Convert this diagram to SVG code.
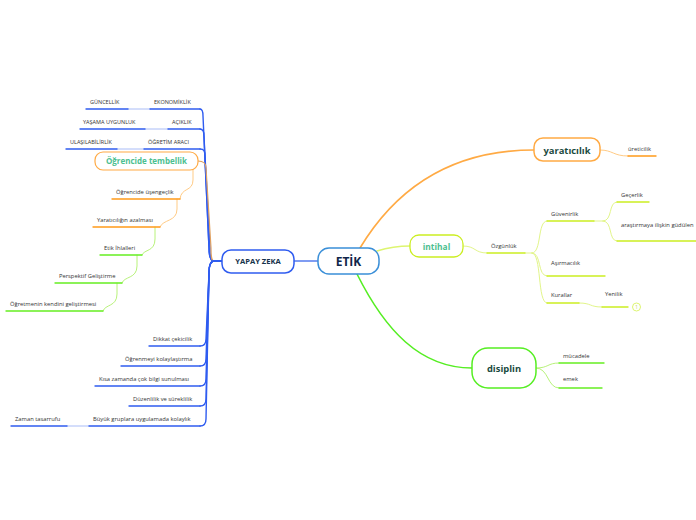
<svg xmlns="http://www.w3.org/2000/svg" width="696" height="520" viewBox="0 0 696 520">
<style>
.leaf{font-family:"Open Sans","DejaVu Sans",sans-serif;font-size:5.8px;fill:#333}
.cap{font-family:"Open Sans","DejaVu Sans",sans-serif;font-size:5.5px;fill:#333}
.c{fill:none;stroke-linecap:round}
.ub{stroke:#2f5cf0;stroke-width:1.4}
.ubl{stroke:#a9bcf7;stroke-width:1}
.uo{stroke:#ff9a1a;stroke-width:1.4}
.uol{stroke:#ffcb85;stroke-width:1}
.ug{stroke:#66ee22;stroke-width:1.4}
.ugl{stroke:#b8f27a;stroke-width:1}
.uy{stroke:#ccee22;stroke-width:1.4}
.uyl{stroke:#e2f58a;stroke-width:1}
.nt{font-family:"Open Sans","DejaVu Sans",sans-serif;font-weight:bold;text-anchor:middle}
</style>
<rect width="696" height="520" fill="#ffffff"/>
<g id="connectors">
  <path class="c" d="M294,261 H318" stroke="#7f9cf2" stroke-width="2"/>
  <path class="c" d="M360,248 C395,190 450,150 534,150" stroke="#ffaa44" stroke-width="1.6"/>
  <path class="c" d="M377,251 C390,247 398,246 410,246" stroke="#ddf570" stroke-width="1.6"/>
  <path class="c" d="M357,274 C385,330 420,368 472,368" stroke="#55ee22" stroke-width="1.6"/>
  <path class="c ub" d="M222,261 H214 C210,261 209,255 209,248 L203,116 C203,111 202,109 200,109"/>
  <path class="c ub" d="M222,261 H214 C210,261 209,255 209,248 L204,136 C204,131 203,129 200,129"/>
  <path class="c ub" d="M222,261 H214 C210,261 210,255 210,248 L205,156 C205,151 204,149 200,149"/>
  <path class="c" d="M222,261 H214 C211,261 211,255 211,248 L206,168 C206,163 203,161 198,161" stroke="#e0a060" stroke-width="1.2"/>
  <path class="c ub" d="M222,261 H214 C210,261 209,266 209,273 L206,339 C206,344 204,346 200,346"/>
  <path class="c ub" d="M222,261 H214 C210,261 209,266 209,273 L206,359 C206,364 204,366 200,366"/>
  <path class="c ub" d="M222,261 H214 C210,261 209,266 209,273 L206,379 C206,384 204,386 200,386"/>
  <path class="c ub" d="M222,261 H214 C210,261 209,266 209,273 L206,399 C206,404 204,406 200,406"/>
  <path class="c ub" d="M222,261 H214 C210,261 209,266 209,273 L206,419 C206,424 204,426 200,426"/>
  <path class="c ubl" d="M128,109 H150"/>
  <path class="c ubl" d="M145,129 H168"/>
  <path class="c ubl" d="M117,149 H144"/>
  <path class="c ubl" d="M67,426 H89"/>
  <path class="c uol" d="M193,170 V180 C193,192 181,187 180,199"/>
  <path class="c uol" d="M177,199 V209 C177,222 163,219 160,227"/>
  <path class="c ugl" d="M155,227 V239 C155,252 144,249 142,255"/>
  <path class="c ugl" d="M137,255 V266 C137,279 124,276 122,283"/>
  <path class="c ugl" d="M117,283 V294 C117,307 105,304 103,311"/>
  <path class="c uol" d="M600,150 C613,150 613,156 628,156"/>
  <path class="c uyl" d="M463,246 C476,246 474,253 487,253"/>
  <path class="c uyl" d="M525,253 H532"/>
  <path class="c uyl" d="M532,253 C542,253 537,221 547,221"/>
  <path class="c uyl" d="M532,253 C542,253 537,276 547,276"/>
  <path class="c uyl" d="M532,253 C542,253 537,303 547,303"/>
  <path class="c uyl" d="M594,221 H603"/>
  <path class="c uyl" d="M603,221 C613,221 608,202 617,202"/>
  <path class="c uyl" d="M603,221 C613,221 608,241 617,241"/>
  <path class="c uyl" d="M579,303 C592,303 589,307 602,307"/>
  <path class="c ugl" d="M536,368 C549,368 547,363 559,363"/>
  <path class="c ugl" d="M536,368 C549,368 547,388 559,388"/>
</g>
<g id="n-etik">
  <rect x="318" y="248" width="61" height="26" rx="11" fill="#fff" stroke="#3a8fd8" stroke-width="1.5"/>
  <text class="nt" x="348.5" y="266" font-size="12" fill="#10264a">ETİK</text>
</g>
<g id="n-yapay">
  <rect x="222" y="250" width="72" height="23" rx="9" fill="#fff" stroke="#2f5cf0" stroke-width="1.5"/>
  <text class="nt" x="258" y="264" font-size="7.6" fill="#16324a">YAPAY ZEKA</text>
</g>
<g id="n-intihal">
  <rect x="410" y="235" width="53" height="22" rx="9" fill="#fff" stroke="#ccee22" stroke-width="1.3"/>
  <text class="nt" x="436.5" y="249.5" font-size="8.4" fill="#4cc090" font-weight="600">intihal</text>
</g>
<g id="n-yaraticilik">
  <rect x="534" y="138" width="66" height="23" rx="9" fill="#fff" stroke="#ffaa44" stroke-width="1.5"/>
  <text class="nt" x="567" y="153.5" font-size="9.4" fill="#1a4a40">yaratıcılık</text>
</g>
<g id="n-disiplin">
  <rect x="472" y="348" width="64" height="40" rx="16" fill="#fff" stroke="#55ee22" stroke-width="1.5"/>
  <text class="nt" x="504" y="372" font-size="9.4" fill="#1a4a40">disiplin</text>
</g>
<g id="n-ekonomiklik"><line class="c ub" x1="150" y1="109" x2="200" y2="109"/><text class="cap" x="154" y="103.5">EKONOMİKLİK</text></g>
<g id="n-guncellik"><line class="c ub" x1="86" y1="109" x2="128" y2="109"/><text class="cap" x="90" y="103.5">GÜNCELLİK</text></g>
<g id="n-aciklik"><line class="c ub" x1="168" y1="129" x2="200" y2="129"/><text class="cap" x="172" y="123.5">AÇIKLIK</text></g>
<g id="n-yasama"><line class="c ub" x1="80" y1="129" x2="145" y2="129"/><text class="cap" x="83" y="123.5">YAŞAMA UYGUNLUK</text></g>
<g id="n-ogretim"><line class="c ub" x1="144" y1="149" x2="200" y2="149"/><text class="cap" x="148" y="143.5">ÖĞRETİM ARACI</text></g>
<g id="n-ulasilabilirlik"><line class="c ub" x1="66" y1="149" x2="117" y2="149"/><text class="cap" x="70" y="143.5">ULAŞILABİLİRLİK</text></g>
<g id="n-tembellik">
  <rect x="95" y="152" width="103" height="18" rx="8" fill="#fff" stroke="#ffaa44" stroke-width="1.2"/>
  <text class="nt" x="146.5" y="164" font-size="8" fill="#4cc090">Öğrencide tembellik</text>
</g>
<g id="n-usengeclik"><line class="c uo" x1="112" y1="199" x2="180" y2="199"/><text class="leaf" x="116" y="194">Öğrencide üşengeçlik</text></g>
<g id="n-yaraticiligin"><line class="c uo" x1="93" y1="227" x2="160" y2="227"/><text class="leaf" x="97" y="222">Yaratıcılığın azalması</text></g>
<g id="n-etikihlal"><line class="c ug" x1="100" y1="255" x2="142" y2="255"/><text class="leaf" x="104" y="250">Etik İhlalleri</text></g>
<g id="n-perspektif"><line class="c ug" x1="55" y1="283" x2="122" y2="283"/><text class="leaf" x="59" y="278">Perspektif Geliştirme</text></g>
<g id="n-ogretmenin"><line class="c ug" x1="6" y1="311" x2="103" y2="311"/><text class="leaf" x="10" y="306">Öğretmenin kendini geliştirmesi</text></g>
<g id="n-dikkat"><line class="c ub" x1="149" y1="346" x2="200" y2="346"/><text class="leaf" x="153" y="341">Dikkat çekicilik</text></g>
<g id="n-ogrenmeyi"><line class="c ub" x1="121" y1="366" x2="200" y2="366"/><text class="leaf" x="125" y="361">Öğrenmeyi kolaylaştırma</text></g>
<g id="n-kisa"><line class="c ub" x1="95" y1="386" x2="200" y2="386"/><text class="leaf" x="99" y="381">Kısa zamanda çok bilgi sunulması</text></g>
<g id="n-duzenlilik"><line class="c ub" x1="129" y1="406" x2="200" y2="406"/><text class="leaf" x="133" y="401">Düzenlilik ve süreklilik</text></g>
<g id="n-buyuk"><line class="c ub" x1="89" y1="426" x2="200" y2="426"/><text class="leaf" x="93" y="421">Büyük gruplara uygulamada kolaylık</text></g>
<g id="n-zaman"><line class="c ub" x1="11" y1="426" x2="67" y2="426"/><text class="leaf" x="15" y="421">Zaman tasarrufu</text></g>
<g id="n-ureticilik"><line class="c uo" x1="628" y1="156" x2="656" y2="156"/><text class="leaf" x="628" y="151">üreticilik</text></g>
<g id="n-ozgunluk"><line class="c uy" x1="487" y1="253" x2="525" y2="253"/><text class="leaf" x="491" y="248">Özgünlük</text></g>
<g id="n-guvenirlik"><line class="c uy" x1="547" y1="221" x2="594" y2="221"/><text class="leaf" x="551" y="216">Güvenirlik</text></g>
<g id="n-gecerlik"><line class="c uy" x1="617" y1="202" x2="649" y2="202"/><text class="leaf" x="621" y="196.5">Geçerlik</text></g>
<g id="n-arastirma"><line class="c uy" x1="617" y1="241" x2="696" y2="241"/><text class="leaf" x="621" y="226.5">araştırmaya ilişkin güdülen</text></g>
<g id="n-asirmacilik"><line class="c uy" x1="547" y1="276" x2="605" y2="276"/><text class="leaf" x="551" y="265">Aşırmacılık</text></g>
<g id="n-kurallar"><line class="c uy" x1="547" y1="303" x2="579" y2="303"/><text class="leaf" x="551" y="296.5">Kurallar</text></g>
<g id="n-yenilik">
  <line class="c uy" x1="602" y1="307" x2="628" y2="307"/><text class="leaf" x="605" y="295.5">Yenilik</text>
  <circle cx="636.5" cy="307" r="4" fill="#fff" stroke="#ddf570" stroke-width="1"/>
  <text x="636.5" y="309" font-family="Open Sans, DejaVu Sans, sans-serif" font-size="4.5" fill="#bbd840" text-anchor="middle">1</text>
</g>
<g id="n-mucadele"><line class="c ug" x1="559" y1="363" x2="604" y2="363"/><text class="leaf" x="563" y="358">mücadele</text></g>
<g id="n-emek"><line class="c ug" x1="559" y1="388" x2="602" y2="388"/><text class="leaf" x="563" y="381">emek</text></g>
</svg>
